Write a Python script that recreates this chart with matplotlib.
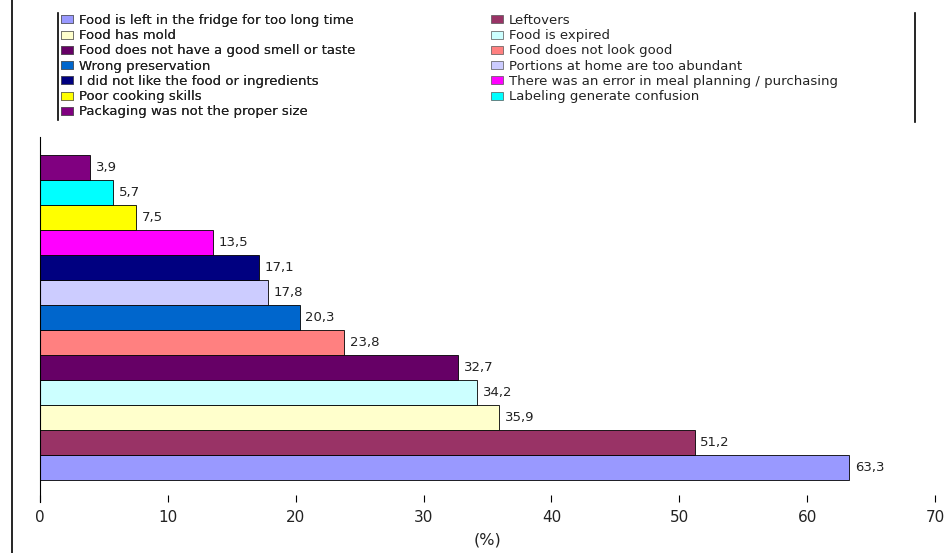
import matplotlib.pyplot as plt
from matplotlib.lines import Line2D
from matplotlib.patches import Patch

plt.rcParams['font.family'] = ['DejaVu Sans']

# bottom to top
reasons = [
    "Food is left in the fridge for too long time",
    "Leftovers",
    "Food has mold",
    "Food is expired",
    "Food does not have a good smell or taste",
    "Food does not look good",
    "Wrong preservation",
    "Portions at home are too abundant",
    "I did not like the food or ingredients",
    "There was an error in meal planning / purchasing",
    "Poor cooking skills",
    "Labeling generate confusion",
    "Packaging was not the proper size",
]
values = [63.3, 51.2, 35.9, 34.2, 32.7, 23.8, 20.3, 17.8, 17.1, 13.5, 7.5, 5.7, 3.9]
colors = ["#9999FF", "#993366", "#FFFFCC", "#CCFFFF", "#660066", "#FF8080",
          "#0066CC", "#CCCCFF", "#000080", "#FF00FF", "#FFFF00", "#00FFFF", "#800080"]
xticks = [0, 10, 20, 30, 40, 50, 60, 70]

fig = plt.figure(figsize=(9.51, 5.53), dpi=100)
ax = fig.add_axes([40 / 951, 1 - 502 / 553, 895 / 951, 365 / 553])

pos = list(range(len(values)))
ax.barh(pos, values, height=1.0, color=colors, edgecolor="black", linewidth=0.6)
for p, v in zip(pos, values):
    ax.text(v + 0.45, p, f"{v:.1f}".replace(".", ","), va="center", ha="left",
            fontsize=9.5, color="#222222")

ax.set_xlim(0, 70)
ax.set_ylim(-1.38, 13.22)
ax.set_xticks(xticks)
ax.set_yticks([])
ax.tick_params(axis="x", direction="in", length=5, width=0.8, pad=6,
               labelsize=11, labelcolor="#222222")
for s in ["top", "right", "bottom"]:
    ax.spines[s].set_visible(False)
ax.spines["left"].set_linewidth(0.8)
ax.set_xlabel("(%)", fontsize=11.5, labelpad=5, color="#222222")

# legend, two columns filled row by row
handles = [Patch(facecolor=c, edgecolor="#555555", linewidth=0.5) for c in colors]
left_idx = list(range(0, 13, 2))
right_idx = list(range(1, 13, 2))
common = dict(loc="upper left", frameon=False, fontsize=9.5, handlelength=0.9,
              handleheight=0.55, handletextpad=0.45, labelspacing=0.17,
              borderpad=0.0, borderaxespad=0.0, labelcolor="#222222")
leg1 = fig.legend([handles[i] for i in left_idx], [reasons[i] for i in left_idx],
                  bbox_to_anchor=(61 / 951, 1 - 14 / 553), **common)
fig.add_artist(leg1)
fig.legend([handles[i] for i in right_idx], [reasons[i] for i in right_idx],
           bbox_to_anchor=(491 / 951, 1 - 14 / 553), **common)

# frame lines
fig.add_artist(Line2D([12 / 951, 12 / 951], [0, 1], color="black", linewidth=1.2))
fig.add_artist(Line2D([58 / 951, 58 / 951], [1 - 13 / 553, 1 - 120 / 553], color="black", linewidth=1.2))
fig.add_artist(Line2D([915 / 951, 915 / 951], [1 - 13 / 553, 1 - 122 / 553], color="black", linewidth=1.2))

fig.savefig("out.png", dpi=100)
